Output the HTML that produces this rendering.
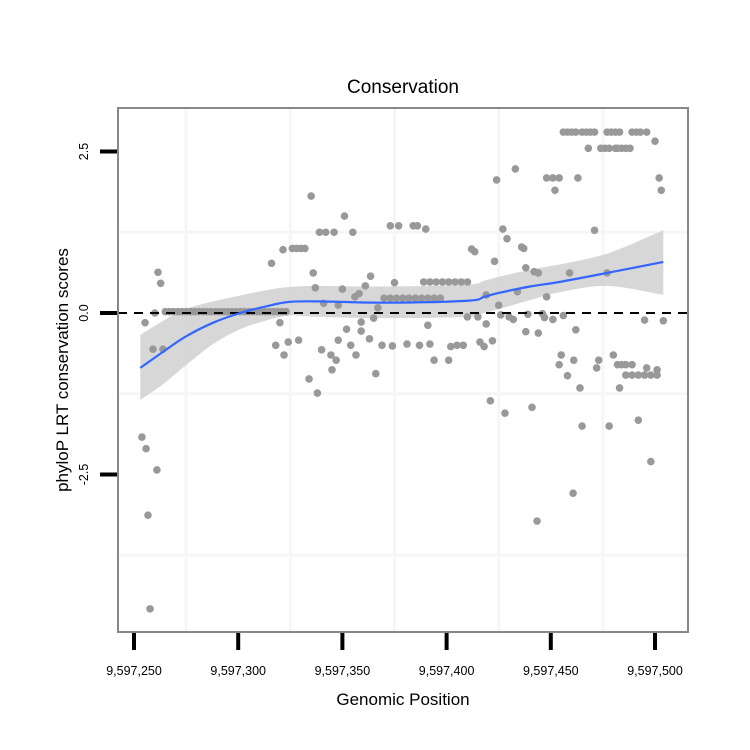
<!DOCTYPE html>
<html><head><meta charset="utf-8"><style>
body{margin:0;background:#fff;}
svg{display:block;font-family:"Liberation Sans",Arial,sans-serif;}
</style></head><body>
<svg id="chart" width="750" height="750" viewBox="0 0 750 750">
<rect x="0" y="0" width="750" height="750" fill="#fff"/>
<text x="403" y="93" font-size="19" text-anchor="middle">Conservation</text>
<g id="grid"></g>
<g id="band"></g>
<g id="points"></g>
<g id="fit"></g>
<g id="axes"></g>
<text x="403" y="705" font-size="17" text-anchor="middle">Genomic Position</text>
<text transform="translate(68,370) rotate(-90)" font-size="17" text-anchor="middle">phyloP LRT conservation scores</text>
</svg>
<script>
// data: x as offset from 9,597,250
const xBase = 9597250;
const xTicks = [0, 50, 100, 150, 200, 250];
const xTickLabels = ["9,597,250","9,597,300","9,597,350","9,597,400","9,597,450","9,597,500"];
const yTicks = [2.5, 0, -2.5];
const yTickLabels = ["2.5","0.0","-2.5"];
const xGrid = [25, 75, 125, 175, 225];
const yGrid = [1.25, -1.25, -3.75];
const ptX = [3.8,5.8,6.7,7.7,11,5.3,9.1,13.9,11.5,12.8,10,
15,17,19,21,23,25,27,29,31,33,35,37,39,41,43,45,47,49,51,53,55,57,59,61,63,65,67,69,71,
66,71.5,76,78,80,82,85,89,92,96,105,101,123,127,134,136,140,86,87,91,73,70,68,74,79,72,84,88,90,94.5,97,95,98,104,106.5,102,98,109,113,116,117,119,124,115,106,108,111,113.5,100,109,
120,123,126,129,132,135,138,141,144,147,125,
177,179,174,183,186,187,162,163.5,173,139,142,145,148,151,154,157,160,169,175,188,192,194,184,198,209,221,227,
198,201,204,202,213,206,208,210,212,215,217,219,221,227,229,231,233,239,241,243,246,250,218,224,226,228,231,232,234,236,238,252,253,
160,165,169,141,176,180,182,189,196,197,201,206,188,194,212,245,254,131,137,142,144,151,152,155,158,166,168,172,205,204,208,211,214,223,222,230,232,234,236,239,236,239,242,245,248,251,246,251,233,171,178,191,215,242,193.4,228,210.7,248];
const ptY = [-1.92,-2.1,-3.13,-4.58,-2.43,-0.15,-0.56,-0.56,0.63,0.46,0,
0.02,0.02,0.02,0.02,0.02,0.02,0.02,0.02,0.02,0.02,0.02,0.02,0.02,0.02,0.02,0.02,0.02,0.02,0.02,0.02,0.02,0.02,0.02,0.02,0.02,0.02,0.02,0.02,0.02,
0.77,0.98,1.0,1.0,1.0,1.0,1.81,1.25,1.25,1.25,1.25,1.5,1.35,1.35,1.35,1.35,1.3,0.62,0.39,0.15,0.02,-0.15,-0.5,-0.45,-0.42,-0.65,-1.02,-1.24,-0.57,-0.65,-0.73,-0.88,-0.42,-0.5,-0.65,-0.25,0.12,-0.28,-0.4,-0.94,0.08,-0.5,-0.51,-0.08,0.25,0.3,0.42,0.57,0.37,-0.14,
0.23,0.23,0.23,0.23,0.23,0.23,0.23,0.23,0.23,0.23,0.47,
1.3,1.15,2.06,2.23,1.02,1.0,0.99,0.95,0.8,0.48,0.48,0.48,0.48,0.48,0.48,0.48,0.48,0.28,0.12,0.7,0.64,0.62,0.33,0.25,0.62,1.28,0.62,
2.09,2.09,2.09,1.9,2.09,2.8,2.8,2.8,2.8,2.8,2.8,2.8,2.8,2.8,2.8,2.8,2.8,2.8,2.8,2.8,2.8,2.66,2.55,2.55,2.55,2.55,2.55,2.55,2.55,2.55,2.55,2.09,1.9,
-0.06,-0.06,-0.17,-0.19,-0.03,-0.06,-0.1,-0.02,-0.01,-0.07,-0.1,-0.04,-0.29,-0.31,-0.26,-0.11,-0.12,-0.48,-0.5,-0.48,-0.73,-0.73,-0.52,-0.5,-0.5,-0.45,-0.52,-0.43,-0.65,-0.8,-0.97,-0.73,-1.16,-0.73,-0.85,-0.65,-0.8,-0.8,-0.8,-0.8,-0.96,-0.96,-0.96,-0.96,-0.96,-0.96,-0.85,-0.88,-1.16,-1.36,-1.55,-1.46,-1.75,-1.66,-3.22,-1.75,-2.79,-2.3];
const fitX = [3, 14, 24.5, 38, 51, 63, 74, 88, 120, 160, 168, 175, 190, 204, 227, 254];
const fitY = [-0.85, -0.6, -0.37, -0.15, 0.0, 0.1, 0.17, 0.18, 0.16, 0.19, 0.25, 0.31, 0.41, 0.48, 0.62, 0.79];
const fitUpper = [-0.34, -0.12, 0.06, 0.18, 0.27, 0.35, 0.4, 0.42, 0.41, 0.44, 0.5, 0.56, 0.67, 0.75, 0.92, 1.28];
const fitLower = [-1.35, -1.1, -0.82, -0.48, -0.25, -0.12, -0.04, -0.06, -0.08, -0.06, 0.0, 0.06, 0.2, 0.32, 0.42, 0.28];

const NS = "http://www.w3.org/2000/svg";
const sx = v => 134 + v * 2.084;
const sy = v => 313 - v * 64.6;
function mk(tag, attrs, parent){
  const el = document.createElementNS(NS, tag);
  for (const k in attrs) el.setAttribute(k, attrs[k]);
  parent.appendChild(el); return el;
}
function smooth(xs, ys, start){
  const p = xs.map((x,i) => [sx(x), sy(ys[i])]);
  let s = (start ? 'M' : 'L') + p[0][0] + ',' + p[0][1];
  for (let i = 0; i < p.length - 1; i++) {
    const p0 = p[Math.max(0,i-1)], p1 = p[i], p2 = p[i+1], p3 = p[Math.min(p.length-1,i+2)];
    const c1x = p1[0] + (p2[0]-p0[0])/6, c1y = p1[1] + (p2[1]-p0[1])/6;
    const c2x = p2[0] - (p3[0]-p1[0])/6, c2y = p2[1] - (p3[1]-p1[1])/6;
    s += 'C' + c1x + ',' + c1y + ' ' + c2x + ',' + c2y + ' ' + p2[0] + ',' + p2[1];
  }
  return s;
}
const grid = document.getElementById('grid');
xGrid.forEach(v => {
  const l = mk('line', {x1:sx(v), x2:sx(v), y1:108, y2:632, stroke:'#f6f6f6', 'stroke-width':3}, grid);
  
  
});
yGrid.forEach(v => {
  const l = mk('line', {x1:118, x2:688, y1:sy(v), y2:sy(v), stroke:'#f6f6f6', 'stroke-width':3}, grid);
  
  
});
const band = document.getElementById('band');
const rx = fitX.slice().reverse(), rl = fitLower.slice().reverse();
const d = smooth(fitX, fitUpper, true) + smooth(rx, rl, false) + 'Z';
const bp = mk('path', {d: d, fill:'#d3d3d3', 'fill-opacity':0.9}, band);


const pts = document.getElementById('points');
ptX.forEach((x,i) => {
  const c = mk('circle', {cx:sx(x), cy:sy(ptY[i]), r:3.8, fill:'#999'}, pts);
  
  
});
const fit = document.getElementById('fit');
const dl = mk('line', {x1:118, x2:688, y1:sy(0), y2:sy(0), stroke:'#000', 'stroke-width':2, 'stroke-dasharray':'9,7'}, fit);


const fl = mk('path', {d: smooth(fitX, fitY, true), fill:'none', stroke:'#3366ff', 'stroke-width':2.2, 'stroke-linejoin':'round'}, fit);


const axes = document.getElementById('axes');
const border = mk('rect', {x:118, y:108, width:570, height:524, fill:'none', stroke:'#888', 'stroke-width':2}, axes);


xTicks.forEach((v,i) => {
  const t = mk('line', {x1:sx(v), x2:sx(v), y1:633, y2:650, stroke:'#000', 'stroke-width':4}, axes);
  
  
  const lb = mk('text', {x:sx(v), y:675, 'font-size':12.5, 'text-anchor':'middle'}, axes);
  lb.textContent = xTickLabels[i];
  
  
});
yTicks.forEach((v,i) => {
  const t = mk('line', {x1:100, x2:117, y1:sy(v), y2:sy(v), stroke:'#000', 'stroke-width':4}, axes);
  
  
  const lb = mk('text', {x:0, y:0, 'font-size':12.5, 'text-anchor':'middle', transform:'translate(88,' + sy(v) + ') rotate(-90)'}, axes);
  lb.textContent = yTickLabels[i];
  
  
});
</script>
</body></html>
